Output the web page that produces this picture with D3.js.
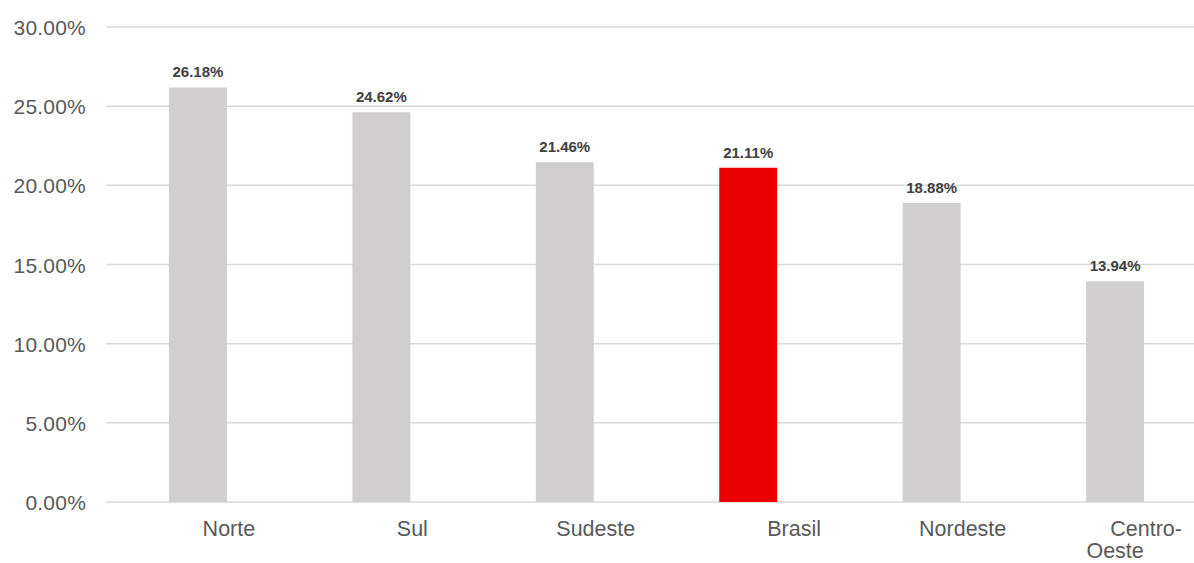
<!DOCTYPE html>
<html>
<head>
<meta charset="utf-8">
<script src="https://cdn.jsdelivr.net/npm/d3@7"></script>
<style>
  body { margin: 0; background: #fff; }
  svg { display: block; }
</style>
</head>
<body>
<div id="chart"></div>
<script>
var regions = ['Norte', 'Sul', 'Sudeste', 'Brasil', 'Nordeste', 'Centro-Oeste'];
// labels as they appear under the bars (Brasil carries some leading space)
var regionLabels = [['Norte'], ['Sul'], ['Sudeste'], ['\u00a0\u00a0\u00a0\u00a0\u00a0Brasil'], ['Nordeste'], ['Centro-', 'Oeste']];
var shares = [26.18, 24.62, 21.46, 21.11, 18.88, 13.94];
var highlight = 'Brasil';
var yTicks = [0, 5, 10, 15, 20, 25, 30];

var width = 1194, height = 563;
var svg = d3.select('#chart').append('svg')
    .attr('width', width)
    .attr('height', height);

var data = regions.map(function (r, i) {
    return { name: r, value: shares[i], label: regionLabels[i] };
});

var x = d3.scaleBand()
    .domain(regions)
    .range([106, 1207])
    .paddingInner(0.684)
    .paddingOuter(0.343);

var y = d3.scaleLinear()
    .domain([0, 30])
    .range([502, 27]);

// gridlines
svg.append('g')
    .selectAll('line')
    .data(yTicks).enter()
    .append('line')
    .attr('x1', 106)
    .attr('x2', width)
    .attr('y1', function (d) { return y(d); })
    .attr('y2', function (d) { return y(d); })
    .attr('stroke', '#d9d9d9')
    .attr('stroke-width', 1.5);

// y axis labels
var yAxis = d3.axisLeft(y)
    .tickValues(yTicks)
    .tickSize(0)
    .tickPadding(0)
    .tickFormat(function (d) { return d.toFixed(2) + '%'; });

var ya = svg.append('g')
    .attr('transform', 'translate(86,0)')
    .call(yAxis);
ya.select('.domain').remove();
ya.selectAll('text')
    .attr('fill', '#595959')
    .attr('dy', '0.36em')
    .style('font-family', 'Liberation Sans, Arial, sans-serif')
    .style('font-size', '21px')
    .style('letter-spacing', '0.2px');

// bars
svg.selectAll('rect.bar')
    .data(data).enter()
    .append('rect')
    .attr('class', 'bar')
    .attr('x', function (d) { return x(d.name); })
    .attr('width', x.bandwidth())
    .attr('y', function (d) { return y(d.value); })
    .attr('height', function (d) { return y(0) - y(d.value); })
    .attr('fill', function (d) { return d.name === highlight ? '#ee0000' : '#d0cece'; });

// value labels
svg.selectAll('text.val')
    .data(data).enter()
    .append('text')
    .attr('class', 'val')
    .attr('x', function (d) { return x(d.name) + x.bandwidth() / 2; })
    .attr('y', function (d) { return y(d.value) - 10; })
    .attr('text-anchor', 'middle')
    .attr('fill', '#404040')
    .style('font-family', 'Liberation Sans, Arial, sans-serif')
    .style('font-size', '15px')
    .style('font-weight', 'bold')
    .text(function (d) { return d.value.toFixed(2) + '%'; });

// category labels (shifted right like the original)
var cats = svg.selectAll('text.cat')
    .data(data).enter()
    .append('text')
    .attr('class', 'cat')
    .attr('y', 536)
    .attr('text-anchor', 'middle')
    .attr('fill', '#595959')
    .style('font-family', 'Liberation Sans, Arial, sans-serif')
    .style('font-size', '21.5px');

cats.each(function (d) {
    var cx = x(d.name) + x.bandwidth() / 2;
    var t = d3.select(this);
    d.label.forEach(function (p, i) {
        t.append('tspan')
            .attr('x', i === 0 ? cx + 31 : cx)
            .attr('dy', i === 0 ? 0 : 22)
            .text(p);
    });
});
</script>
</body>
</html>
